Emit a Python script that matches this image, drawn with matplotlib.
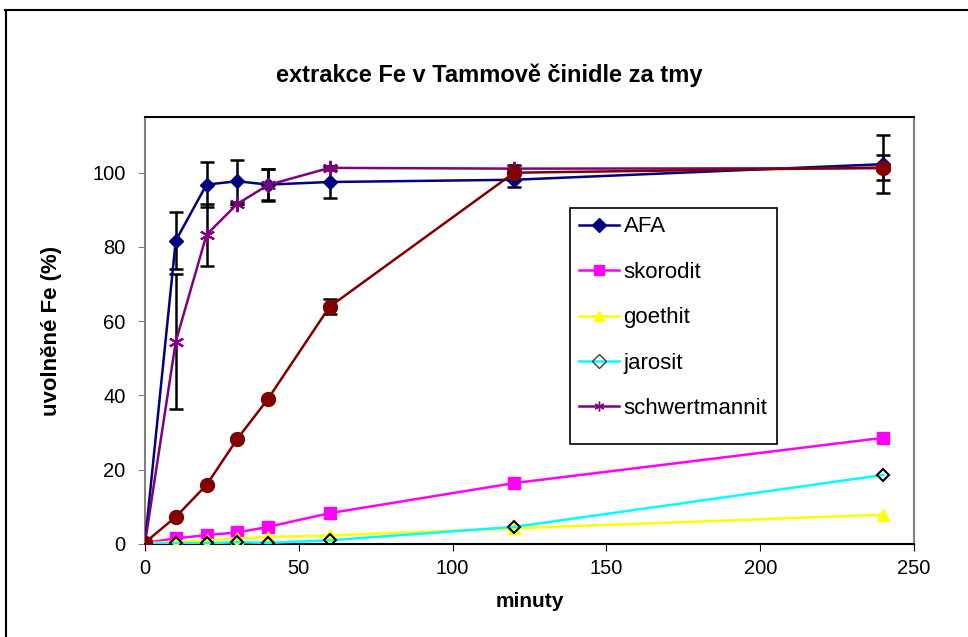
import matplotlib.pyplot as plt
from matplotlib.lines import Line2D
from matplotlib.patches import Rectangle

plt.rcParams["font.family"] = ["Liberation Sans", "DejaVu Sans"]

minutes = [0, 10, 20, 30, 40, 60, 120, 240]

afa = [0.5, 81.7, 96.8, 97.7, 96.8, 97.5, 98.1, 102.3]
afa_err = [0, 7.7, 6.0, 5.7, 4.2, 4.2, 2.0, 7.8]
skorodit = [0.3, 1.5, 2.4, 3.1, 4.6, 8.3, 16.4, 28.6]
goethit = [0.2, 0.6, 1.0, 1.5, 1.9, 2.3, 4.2, 7.9]
jarosit = [0.1, 0.2, 0.2, 0.5, 0.3, 1.0, 4.6, 18.6]
schwert = [0.3, 54.5, 83.3, 91.6, 96.7, 101.3, 101.1, 101.2]
schwert_err = [0, 18.2, 8.3, 0, 4.2, 0.6, 0, 0]
red = [0.4, 7.3, 15.9, 28.3, 39.1, 63.9, 100.0, 101.4]
red_err = [0, 0, 0, 0, 0, 2.0, 2.0, 3.3]

fig = plt.figure(figsize=(9.68, 6.37), dpi=100)
ax = fig.add_axes([0.1498, 0.146, 0.7944, 0.6703])

eb = dict(ecolor="black", elinewidth=1.8, capsize=5, capthick=1.8, zorder=4)

ax.errorbar(minutes, afa, yerr=afa_err, fmt="none", **eb)
ax.errorbar(minutes, schwert, yerr=schwert_err, fmt="none", **eb)
ax.errorbar(minutes, red, yerr=red_err, fmt="none", **eb)

ax.plot(minutes, afa, color="#000080", marker="D", ms=7, lw=1.8, label="AFA", zorder=5)
ax.plot(minutes, skorodit, color="#FF00FF", marker="s", ms=9, lw=1.8, label="skorodit", zorder=5)
ax.plot(minutes, goethit, color="#FFFF00", marker="^", ms=9, lw=1.8, label="goethit", zorder=5)
ax.plot(minutes, jarosit, color="#00FFFF", marker="D", ms=6, lw=1.8, mfc="none",
        mec="black", mew=1.5, label="jarosit", zorder=6)
ax.plot(minutes, schwert, color="#800080", marker=(6, 2, 0), ms=11, mew=1.5, lw=1.8,
        label="schwertmannit", zorder=5)
ax.plot(minutes, red, color="#800000", marker="o", ms=10, lw=1.8, zorder=7)

ax.set_xlim(0, 250)
ax.set_ylim(0, 115)
ax.set_xticks([0, 50, 100, 150, 200, 250])
ax.set_yticks([0, 20, 40, 60, 80, 100])
ax.tick_params(direction="out", length=5, labelsize=14.5, colors="black", pad=6)
ax.tick_params(axis="y", color="#808080", pad=9)
ax.tick_params(axis="x", color="black")

for side in ("left", "right"):
    ax.spines[side].set_color("#808080")
    ax.spines[side].set_linewidth(1.5)
for side in ("top", "bottom"):
    ax.spines[side].set_color("black")
    ax.spines[side].set_linewidth(1.5)

ax.set_xlabel("minuty", fontsize=15, fontweight="bold", labelpad=10)
ax.set_ylabel("uvolněné Fe (%)", fontsize=16, fontweight="bold", labelpad=22)
fig.text(0.505, 0.882, "extrakce Fe v Tammově činidle za tmy", ha="center", va="center",
         fontsize=17, fontweight="bold")

leg = ax.legend(loc="upper left", bbox_to_anchor=(0.553, 0.788), fontsize=16,
                frameon=False, labelspacing=1.1, handlelength=1.8, handletextpad=0.2,
                borderpad=0.4, borderaxespad=0)
for h in leg.legend_handles:
    h.set_markersize(7)
leg.legend_handles[3].set_markeredgecolor("#404040")
leg.legend_handles[3].set_markeredgewidth(1)
leg.legend_handles[4].set_markeredgewidth(1)

# legend frame drawn by hand: Excel leaves an empty row at the bottom
fig.canvas.draw()
bb = leg.get_window_extent().transformed(fig.transFigure.inverted())
extra = 16 / 637
fig.add_artist(Rectangle((bb.x0, bb.y0 - extra), 777 / 968 - bb.x0, bb.height + extra,
                         transform=fig.transFigure, fill=False, edgecolor="black",
                         lw=1.2, zorder=10))

# outer chart border (only left and top visible)
fig.add_artist(Line2D([0.006, 0.006], [0, 0.984], transform=fig.transFigure, color="black", lw=1.5))
fig.add_artist(Line2D([0.005, 1.0], [0.984, 0.984], transform=fig.transFigure, color="black", lw=1.5))

fig.savefig("out.png", dpi=100)
